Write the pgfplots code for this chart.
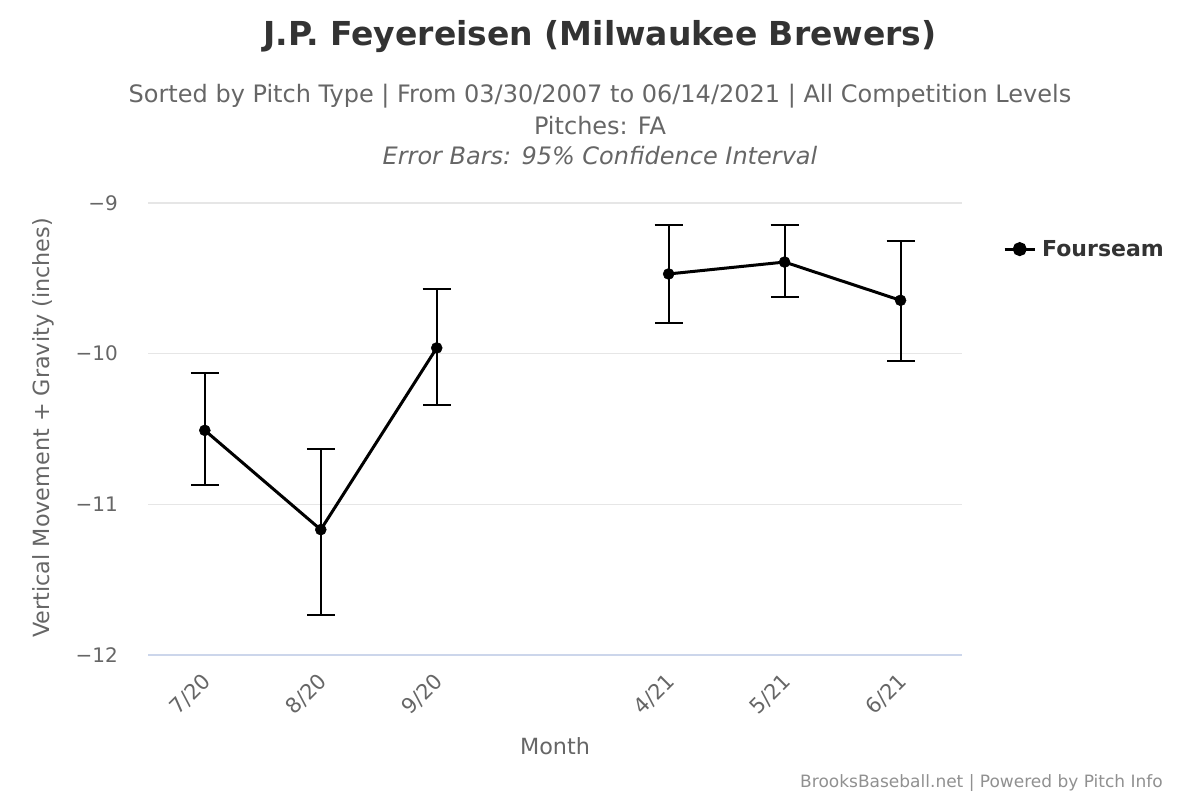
\documentclass[border=0pt]{standalone}
\usepackage{pgfplots}
\pgfplotsset{compat=1.18}
\usepackage{fontspec}
\setmainfont{DejaVu Sans}
\definecolor{titlec}{HTML}{333333}
\definecolor{subc}{HTML}{666666}
\definecolor{gridc}{HTML}{E6E6E6}
\definecolor{axisc}{HTML}{CCD6EB}
\definecolor{credc}{HTML}{909090}
\begin{document}
\begin{tikzpicture}[x=1pt,y=1pt]
\path[use as bounding box] (0,0) rectangle (1200,800);
\begin{axis}[
  at={(148pt,145pt)}, anchor=south west,
  scale only axis, width=814pt, height=452pt,
  xmin=-0.49, xmax=6.53, ymin=-12, ymax=-9,
  axis x line*=bottom, axis y line*=left,
  x axis line style={axisc, line width=2pt},
  y axis line style={draw=none},
  major tick length=0pt,
  ytick={-12,-11,-10,-9},
  yticklabels={−12,−11,−10,−9},
  xtick={0,1,2,4,5,6},
  xticklabels={7/20,8/20,9/20,4/21,5/21,6/21},
  ymajorgrids, grid style={gridc, line width=1.5pt},
  yticklabel style={font=\fontsize{20}{24}\selectfont, text=subc, anchor=east, inner sep=0pt, xshift=-30pt},
  xticklabel style={font=\fontsize{21}{25}\selectfont, text=subc, rotate=45, anchor=east, inner sep=0pt, xshift=-14pt, yshift=-18pt},
  clip=false,
  legend style={at={(1.0504,0.898)}, anchor=west, draw=none, fill=none, inner sep=0pt,
    font=\fontsize{22}{26}\selectfont\bfseries, text=titlec, nodes={inner xsep=6pt, inner ysep=0pt}},
  legend cell align=left,
]
\addplot[draw=none, mark=none, forget plot,
  error bars/.cd, y dir=both, y explicit,
  error bar style={draw=black, line width=2pt},
  error mark options={draw=black, rotate=90, mark size=14pt, line width=2pt}]
  coordinates {
  (0,-10.509) += (0,0.382) -= (0,0.363)
  (1,-11.168) += (0,0.535) -= (0,0.566)
  (2,-9.962) += (0,0.391) -= (0,0.381)
  (4,-9.471) += (0,0.328) -= (0,0.325)
  (5,-9.392) += (0,0.249) -= (0,0.232)
  (6,-9.646) += (0,0.392) -= (0,0.403)
  };
\addplot[black, line width=3pt, mark=*, mark size=5.5pt, mark options={solid, line width=0.5pt},
  legend image code/.code={\draw[black, line width=3pt] (-2pt,0pt) -- (28pt,0pt); \fill[black] (13pt,0pt) circle (5.5pt);}]
  coordinates {(0,-10.509) (1,-11.168) (2,-9.962)};
\addlegendentry{Fourseam}
\addplot[black, line width=3pt, mark=*, mark size=5.5pt, mark options={solid, line width=0.5pt}, forget plot]
  coordinates {(4,-9.471) (5,-9.392) (6,-9.646)};
\end{axis}
\node[text=titlec, font=\fontsize{33}{40}\selectfont\bfseries] at (600,763) {J.P. Feyereisen (Milwaukee Brewers)};
\node[text=subc, font=\fontsize{24}{28}\selectfont] at (600,704) {Sorted by Pitch Type | From 03/30/2007 to 06/14/2021 | All Competition Levels};
\node[text=subc, font=\fontsize{24}{28}\selectfont] at (600,674) {Pitches: FA};
\node[text=subc, font=\fontsize{24}{28}\selectfont\itshape] at (600,644) {Error Bars: 95\% Confidence Interval};
\node[text=subc, font=\fontsize{22.3}{26}\selectfont, rotate=90] at (43,372) {Vertical Movement + Gravity (inches)};
\node[text=subc, font=\fontsize{22.3}{26}\selectfont] at (555,54) {Month};
\node[text=credc, font=\fontsize{17}{20}\selectfont, anchor=east, inner sep=0pt] at (1163,17) {BrooksBaseball.net | Powered by Pitch Info};
\end{tikzpicture}
\end{document}
